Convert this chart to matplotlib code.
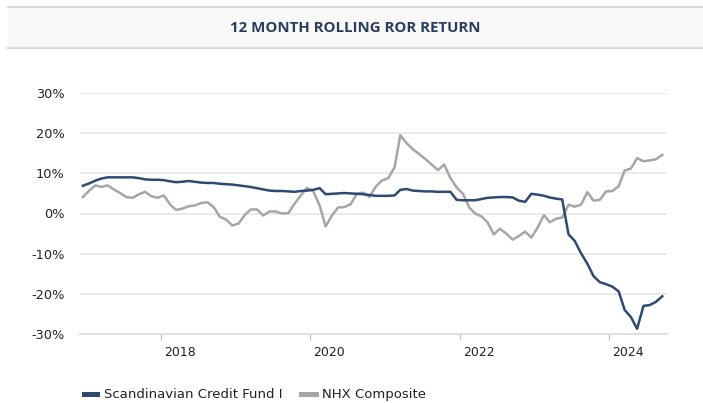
import pandas as pd
import numpy as np
import matplotlib
matplotlib.use("Agg")
import matplotlib.pyplot as plt
import matplotlib.transforms as mtransforms
from matplotlib.patches import Rectangle
from matplotlib.lines import Line2D

# === Данные (месячные значения, %) ===
dates = pd.date_range("2016-12-01", periods=94, freq="MS") + pd.Timedelta(days=14)

fund = [
    6.9, 7.5, 8.2, 8.7, 9.0, 9.0, 9.0, 9.0, 9.0, 8.8,
    8.5, 8.4, 8.4, 8.3, 8.0, 7.8, 7.9, 8.1, 7.9, 7.7,
    7.6, 7.6, 7.4, 7.3, 7.2, 7.0, 6.8, 6.6, 6.3, 6.0,
    5.7, 5.6, 5.6, 5.5, 5.4, 5.6, 5.7, 5.9, 6.3, 4.8,
    4.9, 5.0, 5.1, 5.0, 4.9, 4.8, 4.6, 4.4, 4.4, 4.4,
    4.5, 5.9, 6.1, 5.7, 5.6, 5.5, 5.5, 5.4, 5.4, 5.4,
    3.4, 3.3, 3.3, 3.3, 3.6, 3.9, 4.0, 4.1, 4.1, 4.0,
    3.2, 2.9, 4.9, 4.7, 4.4, 4.0, 3.7, 3.5, -5.2, -6.8,
    -9.9, -12.5, -15.6, -17.1, -17.6, -18.2, -19.4, -24.0, -25.8, -28.7,
    -23.0, -22.8, -22.0, -20.6,
]

nhx = [
    4.1, 5.7, 7.0, 6.6, 7.0, 6.0, 5.1, 4.1, 3.9, 4.8,
    5.4, 4.3, 3.9, 4.5, 2.2, 0.9, 1.2, 1.8, 2.0, 2.6,
    2.8, 1.6, -0.8, -1.5, -3.0, -2.5, -0.3, 1.0, 1.0, -0.5,
    0.5, 0.5, 0.0, 0.1, 2.4, 4.5, 6.4, 5.5, 2.0, -3.2,
    -0.5, 1.5, 1.6, 2.3, 4.9, 5.2, 4.1, 6.7, 8.2, 8.8,
    11.5, 19.5, 17.5, 16.0, 14.8, 13.6, 12.2, 10.8, 12.2, 8.8,
    6.5, 4.9, 1.5, 0.0, -0.7, -2.2, -5.2, -3.8, -5.0, -6.5,
    -5.6, -4.5, -6.0, -3.5, -0.4, -2.2, -1.3, -1.0, 2.2, 1.7,
    2.2, 5.3, 3.2, 3.4, 5.5, 5.6, 6.8, 10.7, 11.2, 13.8,
    13.0, 13.2, 13.5, 14.6,
]

series_names = ["Scandinavian Credit Fund I", "NHX Composite"]
colors = ["#2f4a72", "#a6a6a6"]
tick_years = [2018, 2020, 2022, 2024]
y_ticks = [-30, -20, -10, 0, 10, 20, 30]

W, H = 703, 403
fig = plt.figure(figsize=(W / 100, H / 100), dpi=100)
fig.patch.set_facecolor("white")

# Заголовок в полосе
fig.add_artist(Rectangle((8 / W, 1 - 48 / H), 1 - 8 / W, 41 / H,
                         transform=fig.transFigure, facecolor="#f9f9f9",
                         edgecolor="none"))
for yy in [7, 48]:
    fig.add_artist(Line2D([8 / W, 1], [1 - yy / H, 1 - yy / H],
                          transform=fig.transFigure, color="#d9d9d9", lw=1.6))
fig.text(355 / W, 1 - 28.5 / H, "12 MONTH ROLLING ROR RETURN",
         ha="center", va="center", fontsize=10.8, fontfamily="Open Sans",
         fontweight="bold", color="#2b3d5e")

ax = fig.add_axes([80 / W, 1 - 334 / H, 587 / W, 241 / H])
ax.set_facecolor("white")

ax.plot(dates, nhx, color=colors[1], lw=1.8, zorder=3)
ax.plot(dates, fund, color=colors[0], lw=1.8, zorder=4)

ax.set_ylim(-30, 30)
ax.set_yticks(y_ticks)
ax.set_yticklabels([f"{v}%" for v in y_ticks])
ax.set_xlim(pd.Timestamp("2016-12-01"), pd.Timestamp("2024-10-08"))
ax.set_xticks([pd.Timestamp(f"{y}-01-01") for y in tick_years])
ax.set_xticklabels([str(y) for y in tick_years])

ax.grid(axis="y", color="#e6e6e6", lw=1.1, zorder=0)
for s in ["top", "right", "left"]:
    ax.spines[s].set_visible(False)
ax.spines["bottom"].set_color("#d9d9d9")
ax.spines["bottom"].set_linewidth(1.3)
ax.spines["bottom"].set_zorder(1)

ax.tick_params(axis="y", length=0, pad=11, labelsize=9.3, labelcolor="#222222")
ax.tick_params(axis="x", length=4, width=0.8, color="#bbbbbb", pad=5,
               labelsize=9.0, labelcolor="#222222")
offset = mtransforms.ScaledTranslation(3 / 100, 0, fig.dpi_scale_trans)
for lab in ax.get_xticklabels():
    lab.set_horizontalalignment("left")
    lab.set_transform(lab.get_transform() + offset)

# Легенда
leg_y = 1 - 394.5 / H
fig.add_artist(Rectangle((82 / W, leg_y - 2.5 / H), 18 / W, 5 / H,
                         transform=fig.transFigure, facecolor=colors[0],
                         edgecolor="none"))
fig.text(104 / W, leg_y, series_names[0], ha="left", va="center",
         fontsize=9.5, color="#222222")
fig.add_artist(Rectangle((299 / W, leg_y - 2.5 / H), 20 / W, 5 / H,
                         transform=fig.transFigure, facecolor=colors[1],
                         edgecolor="none"))
fig.text(322 / W, leg_y, series_names[1], ha="left", va="center",
         fontsize=9.5, color="#222222")

fig.savefig("out.png", dpi=100)
plt.close(fig)
